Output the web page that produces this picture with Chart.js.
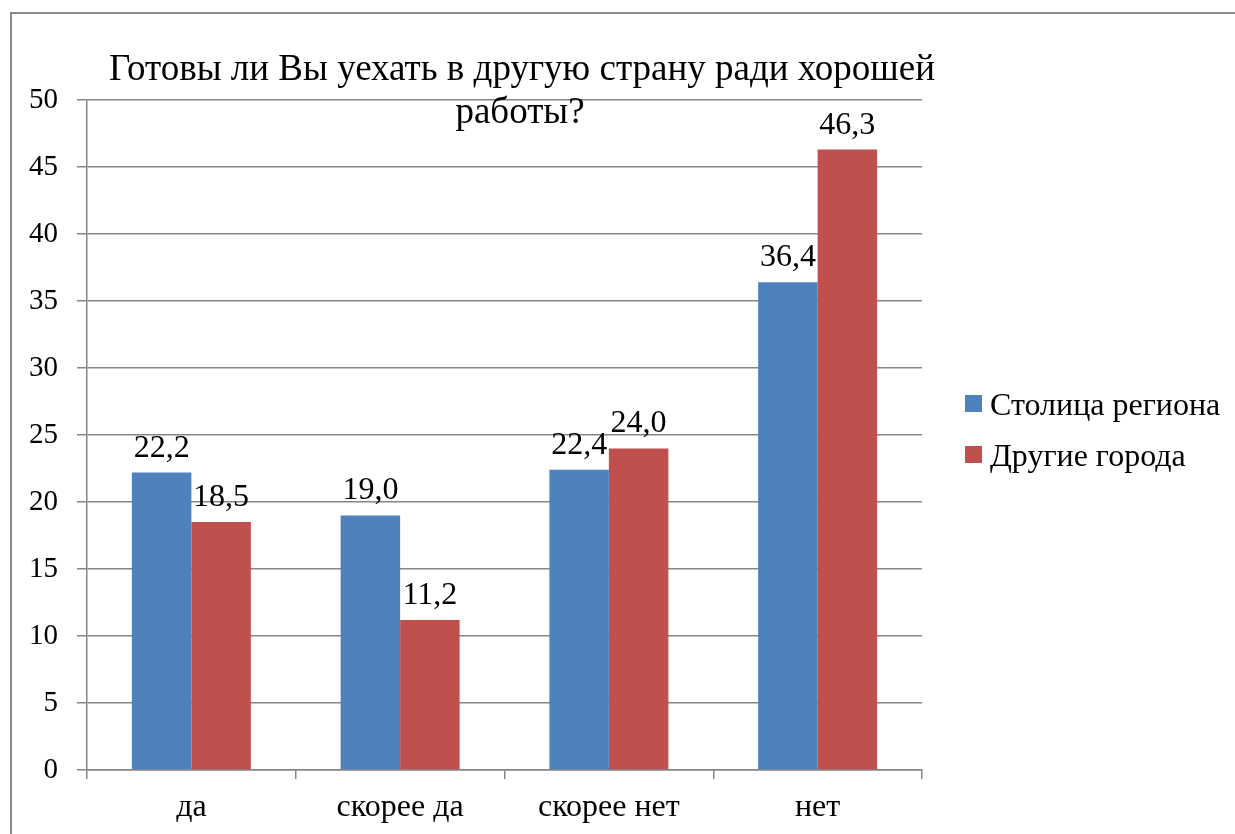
<!DOCTYPE html>
<html>
<head>
<meta charset="utf-8">
<script src="https://cdn.jsdelivr.net/npm/chart.js@4.4.0/dist/chart.umd.min.js"></script>
<style>
  html, body { margin: 0; padding: 0; background: #fff; }
  #wrap { position: relative; width: 1235px; height: 834px; overflow: hidden; }
  #frame { position: absolute; left: 10px; top: 12px; width: 1300px; height: 900px;
           border-left: 2px solid #8a8a8a; border-top: 2px solid #8a8a8a; }
  canvas { position: absolute; left: 0; top: 0; }
</style>
</head>
<body>
<div id="wrap">
  <div id="frame"></div>
  <canvas id="chart" width="1235" height="834"></canvas>
</div>
<script>
// Chart data
const categories = ['да', 'скорее да', 'скорее нет', 'нет'];
const capitalValues = [22.2, 19.0, 22.4, 36.4];
const otherValues = [18.5, 11.2, 24.0, 46.3];
const seriesNames = ['Столица региона', 'Другие города'];
const titleLines = ['Готовы ли Вы уехать в другую страну ради хорошей', 'работы?'];

const FONT = '"Liberation Serif", "Times New Roman", serif';
const gridColor = '#868686';

// value labels above bars + title + legend
const overlayPlugin = {
  id: 'overlay',
  afterDatasetsDraw(chart) {
    const c = chart.ctx;
    c.save();
    c.fillStyle = '#000';
    c.font = '32px ' + FONT;
    c.textAlign = 'center';
    c.textBaseline = 'alphabetic';
    chart.data.datasets.forEach((ds, i) => {
      chart.getDatasetMeta(i).data.forEach((bar, j) => {
        c.fillText(ds.data[j].toFixed(1).replace('.', ','), bar.x, bar.y - 16);
      });
    });

    // title
    c.font = '37px ' + FONT;
    c.fillText(titleLines[0], 522, 80);
    c.fillText(titleLines[1], 520, 123);

    // legend
    c.font = '32px ' + FONT;
    c.textAlign = 'left';
    chart.data.datasets.forEach((ds, i) => {
      const y = 404 + i * 51;
      c.fillStyle = ds.backgroundColor;
      c.fillRect(965, y - 9, 17, 17);
      c.fillStyle = '#000';
      c.fillText(ds.label, 990, y + 11);
    });
    c.restore();
  }
};

new Chart(document.getElementById('chart').getContext('2d'), {
  type: 'bar',
  data: {
    labels: categories,
    datasets: [
      { label: seriesNames[0], data: capitalValues, backgroundColor: '#4F81BD' },
      { label: seriesNames[1], data: otherValues, backgroundColor: '#C0504D' }
    ]
  },
  options: {
    responsive: false,
    animation: false,
    layout: { padding: { left: 0, top: 100, right: 313, bottom: 0 } },
    datasets: { bar: { barPercentage: 1, categoryPercentage: 0.57 } },
    plugins: {
      legend: { display: false },
      title: { display: false },
      tooltip: { enabled: false }
    },
    scales: {
      x: {
        grid: { drawOnChartArea: false, drawTicks: true, tickLength: 9, color: gridColor, lineWidth: 1.5 },
        border: { color: gridColor, width: 1.5 },
        ticks: { color: '#000', font: { family: FONT, size: 32 }, padding: 9 },
        afterFit(scale) { scale.height = 64; }
      },
      y: {
        min: 0,
        max: 50,
        ticks: { stepSize: 5, color: '#000', font: { family: FONT, size: 29 }, padding: 19 },
        grid: { color: gridColor, lineWidth: 1.5, tickLength: 10 },
        border: { color: gridColor, width: 1.5 },
        afterFit(scale) { scale.width = 87; }
      }
    }
  },
  plugins: [overlayPlugin]
});
</script>
</body>
</html>
